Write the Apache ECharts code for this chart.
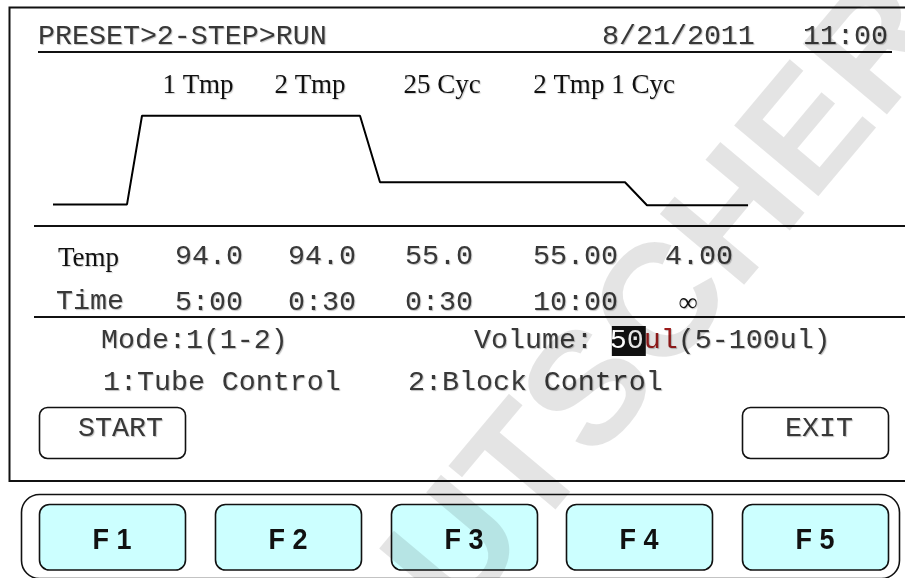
<!DOCTYPE html>
<html>
<head>
<meta charset="utf-8">
<script src="https://cdn.jsdelivr.net/npm/echarts@6/dist/echarts.min.js"></script>
<style>
html, body { margin: 0; padding: 0; background: #fff; }
#main { width: 905px; height: 578px; }
</style>
</head>
<body>
<div id="main"></div>
<script>
// temperature profile as drawn on the screen (schematic levels)
const profileX = [0, 74, 89, 307, 327, 572, 594, 695];
const profileTemp = [42, 42, 94, 94, 55, 55, 41.5, 41.5];

const stepLabels = ['1 Tmp', '2 Tmp', '25 Cyc', '2 Tmp 1 Cyc'];
const tempValues = ['94.0', '94.0', '55.0', '55.00', '4.00'];
const timeValues = ['5:00', '0:30', '0:30', '10:00', '∞'];
const fKeys = ['F 1', 'F 2', 'F 3', 'F 4', 'F 5'];

// layout (pixels)
const stepLabelX = [198, 310, 442, 604];
const colX = [175, 288, 405, 533, 665];
const fKeyX = [39, 215, 391, 566, 742];

const MONO = "'Liberation Mono', 'Courier New', monospace";
const SERIF = "'Liberation Serif', 'Times New Roman', serif";
const SANS = "'Liberation Sans', Arial, sans-serif";
const MS = 28.3;          // mono font size
const ADV = MS * 0.6;     // mono advance

const chart = echarts.init(document.getElementById('main'));

function monoText(str, x, y, extra) {
  return Object.assign({
    type: 'text', x: x, y: y, z: 10,
    style: {
      text: str, fontSize: MS, fontFamily: MONO, fill: '#383838',
      align: 'left', verticalAlign: 'middle',
      textShadowColor: 'rgba(0,0,0,0.25)', textShadowOffsetX: 1, textShadowOffsetY: 1, textShadowBlur: 1
    }
  }, extra || {});
}
function serifText(str, x, y, align) {
  return {
    type: 'text', x: x, y: y, z: 10,
    style: {
      text: str, fontSize: 27, fontFamily: SERIF, fill: '#111',
      align: align || 'center', verticalAlign: 'middle',
      textShadowColor: 'rgba(0,0,0,0.2)', textShadowOffsetX: 1, textShadowOffsetY: 1, textShadowBlur: 1
    }
  };
}
function hline(x1, x2, y, w) {
  return { type: 'line', z: 5, shape: { x1: x1, y1: y, x2: x2, y2: y }, style: { stroke: '#111', lineWidth: w || 2 } };
}

const els = [];
// screen frame
els.push({ type: 'rect', z: 1, shape: { x: 9.5, y: 7.5, width: 905, height: 473.5 }, style: { fill: '#fff', stroke: '#111', lineWidth: 2 } });
// header
els.push(monoText('PRESET>2-STEP>RUN', 38, 37));
els.push(monoText('8/21/2011', 602, 37));
els.push(monoText('11:00', 803, 37));
els.push(hline(38, 892, 52));
// step labels
stepLabels.forEach((s, i) => els.push(serifText(s, stepLabelX[i], 86)));
// dividers
els.push(hline(34, 905, 226));
els.push(hline(34, 905, 317));
// table
els.push(serifText('Temp', 58, 259, 'left'));
els.push(monoText('Time', 56, 302));
tempValues.forEach((v, i) => els.push(monoText(v, colX[i], 257)));
timeValues.forEach((v, i) => {
  if (v === '∞') {
    els.push(serifText(v, colX[i] + 23, 304));
  } else {
    els.push(monoText(v, colX[i], 303));
  }
});
// mode / volume
els.push(monoText('Mode:1(1-2)', 101, 341));
const vx = 474;
els.push(monoText('Volume: ', vx, 341));
els.push({ type: 'rect', z: 8, shape: { x: vx + 8 * ADV + 2, y: 326, width: 2 * ADV, height: 30 }, style: { fill: '#111' } });
els.push(monoText('50', vx + 8 * ADV, 341, { z: 11 }));
els[els.length - 1].style.fill = '#fff';
els[els.length - 1].style.textShadowColor = 'rgba(0,0,0,0)';
els.push(monoText('ul', vx + 10 * ADV, 341));
els[els.length - 1].style.fill = '#9b1b1b';
els.push(monoText('(5-100ul)', vx + 12 * ADV, 341));
els.push(monoText('1:Tube Control', 103, 383));
els.push(monoText('2:Block Control', 408, 383));
// START / EXIT
els.push({ type: 'rect', z: 5, shape: { x: 39.5, y: 407.5, width: 146, height: 51, r: 8 }, style: { fill: 'none', stroke: '#111', lineWidth: 1.6 } });
els.push(monoText('START', 78, 429));
els.push({ type: 'rect', z: 5, shape: { x: 742.5, y: 407.5, width: 146, height: 51, r: 8 }, style: { fill: 'none', stroke: '#111', lineWidth: 1.6 } });
els.push(monoText('EXIT', 785, 429));
// function key panel
els.push({ type: 'rect', z: 5, shape: { x: 21.5, y: 494.5, width: 878, height: 84, r: 18 }, style: { fill: '#fff', stroke: '#111', lineWidth: 1.6 } });
fKeys.forEach((k, i) => {
  els.push({ type: 'rect', z: 6, shape: { x: fKeyX[i] + 0.5, y: 504.5, width: 146, height: 65.5, r: 10 }, style: { fill: '#ccffff', stroke: '#111', lineWidth: 1.6 } });
  els.push({ type: 'text', z: 10, x: fKeyX[i] + 73, y: 541, scaleY: 1.12,
    style: { text: k, fontSize: 27, fontWeight: 'bold', fontFamily: SANS, fill: '#111', align: 'center', verticalAlign: 'middle' } });
});
// watermark
els.push({ type: 'text', z: 100, x: 672, y: 302, rotation: 50 * Math.PI / 180,
  style: { text: 'UTSCHER', fontSize: 160, fontWeight: 'bold', fontFamily: SANS, fill: 'rgba(0,0,0,0.105)', align: 'center', verticalAlign: 'middle' } });

chart.setOption({
  animation: false,
  backgroundColor: '#fff',
  grid: { left: 53, top: 105.5, width: 695, height: 119.4 },
  xAxis: { type: 'value', min: 0, max: 695, show: false },
  yAxis: { type: 'value', min: 30, max: 100, show: false },
  graphic: { elements: els },
  series: [{
    type: 'line',
    data: profileX.map((x, i) => [x, profileTemp[i]]),
    symbol: 'none',
    z: 20,
    lineStyle: { color: '#000', width: 2 }
  }]
});
</script>
</body>
</html>
